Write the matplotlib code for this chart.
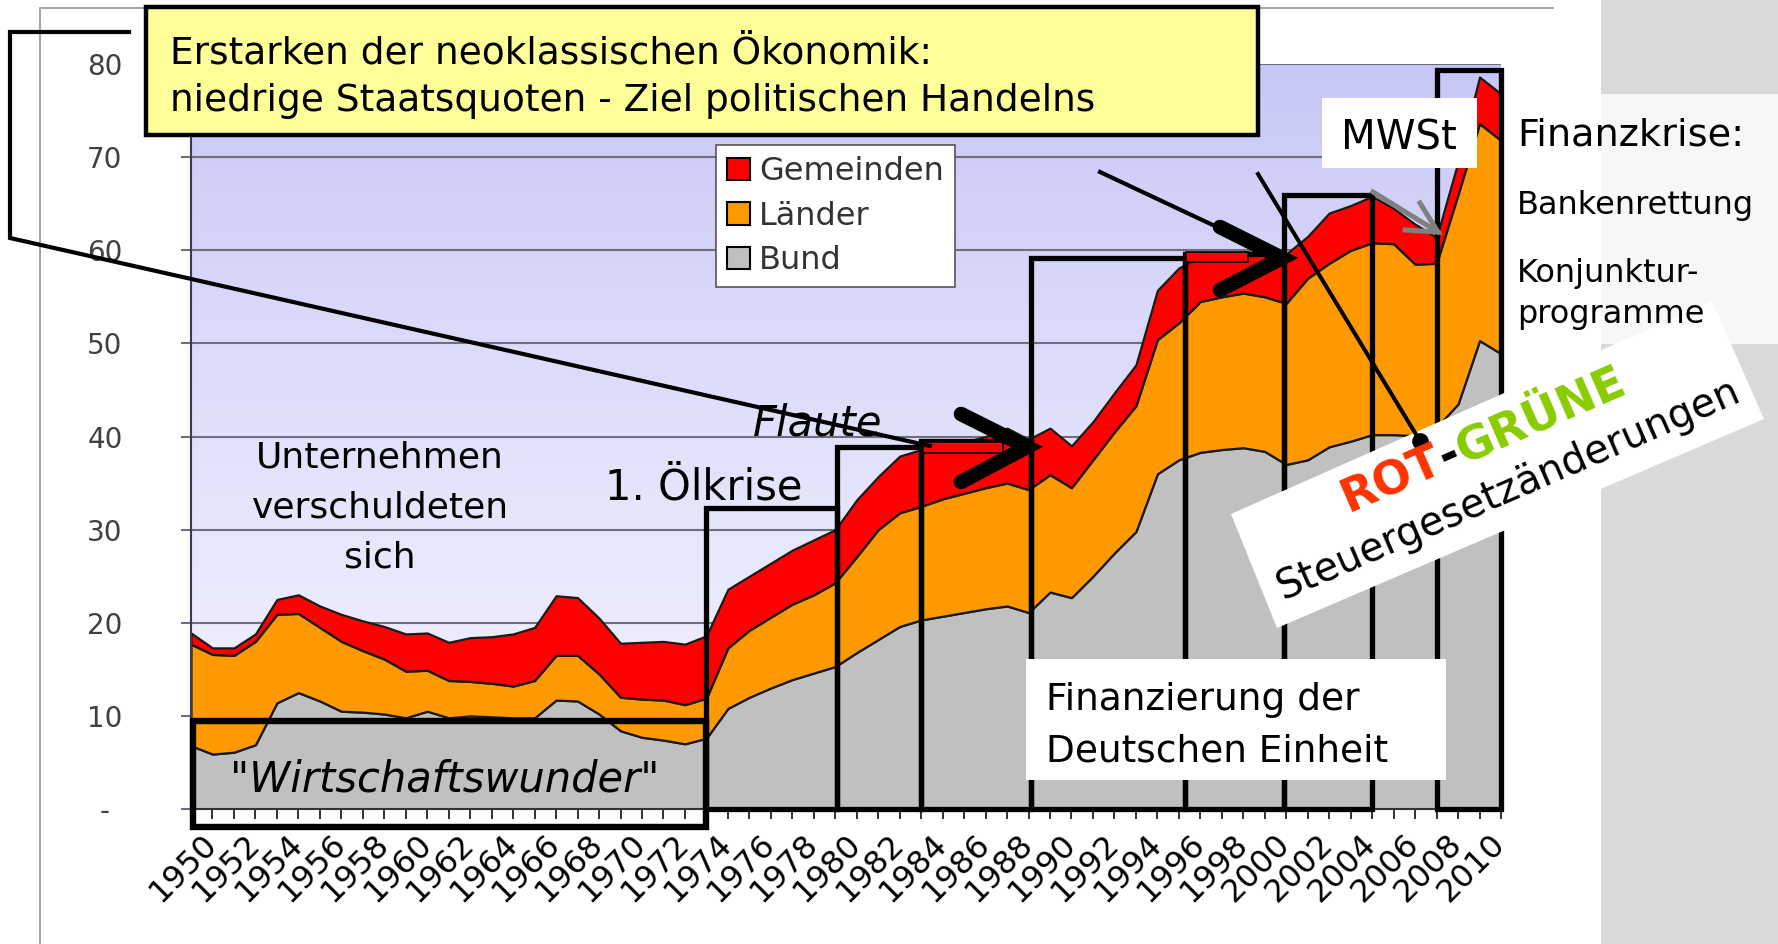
import numpy as np
import matplotlib.pyplot as plt
from matplotlib.patches import Rectangle, Polygon, Patch
from matplotlib.transforms import ScaledTranslation

plt.rcParams['font.family'] = ['DejaVu Sans']

# Schulden in % des BIP, 1950-2011 (gestapelt: Bund, Länder, Gemeinden)
years = list(range(1950, 2012))
bund = [6.8, 5.9, 6.1, 6.9, 11.4, 12.5, 11.6, 10.5, 10.4, 10.2,
        9.8, 10.5, 9.8, 10.0, 9.9, 9.8, 9.8, 11.7, 11.6, 10.2,
        8.4, 7.7, 7.4, 7.0, 7.6, 10.8, 12.0, 13.0, 13.9, 14.6,
        15.3, 16.8, 18.2, 19.6, 20.3, 20.7, 21.1, 21.5, 21.8, 21.1,
        23.3, 22.7, 25.0, 27.5, 29.8, 36.0, 37.5, 38.3, 38.6, 38.8,
        38.4, 37.0, 37.5, 38.9, 39.5, 40.2, 40.2, 40.1, 41.0, 43.5,
        50.3, 48.9]
laender = [10.9, 10.7, 10.4, 11.1, 9.5, 8.5, 7.9, 7.5, 6.6, 5.9,
           5.0, 4.4, 4.0, 3.7, 3.6, 3.4, 4.0, 4.8, 4.9, 4.3,
           3.6, 4.1, 4.3, 4.2, 4.3, 6.5, 7.2, 7.6, 8.1, 8.4,
           9.0, 10.3, 11.8, 12.2, 12.2, 12.6, 12.8, 13.0, 13.2, 13.2,
           12.6, 11.8, 12.5, 13.0, 13.5, 14.4, 14.7, 16.2, 16.4, 16.6,
           16.6, 17.3, 19.5, 19.7, 20.5, 20.6, 20.5, 18.4, 17.6, 22.5,
           23.3, 22.9]
gemeinden = [1.2, 0.7, 0.8, 0.8, 1.6, 2.0, 2.3, 2.9, 3.2, 3.5,
             4.0, 4.0, 4.1, 4.7, 5.0, 5.6, 5.7, 6.4, 6.2, 6.0,
             5.8, 6.1, 6.3, 6.5, 6.7, 6.3, 5.8, 5.8, 5.8, 5.9,
             5.7, 6.1, 5.7, 6.1, 6.1, 5.8, 5.5, 5.5, 5.9, 5.4,
             5.0, 4.5, 4.1, 4.2, 4.4, 5.3, 5.9, 4.8, 4.5, 4.4,
             4.8, 5.3, 4.5, 5.4, 4.8, 5.0, 3.8, 4.3, 2.8, 3.5,
             5.0, 5.0]
series_names = ['Bund', 'Länder', 'Gemeinden']
series_colors = ['#c0c0c0', '#ff9900', '#ff0000']

y_ticks = [0, 10, 20, 30, 40, 50, 60, 70, 80]
y_tick_labels = ['-', '10', '20', '30', '40', '50', '60', '70', '80']
x_tick_years = list(range(1950, 2011, 2))

# Phasen-Kästen: (von, bis, Oberkante)
phase_boxes = [(1974, 1980.1, 32.3), (1980.1, 1984, 38.9), (1984, 1989.1, 39.5),
               (1989.1, 1996.3, 59.2), (1996.3, 2000.9, 59.6), (2000.9, 2005.0, 65.9),
               (2008.0, 2011, 79.4)]

W, H = 1778, 944
fig = plt.figure(figsize=(W / 100, H / 100), dpi=100)
fig.patch.set_facecolor('white')


def px_axes(z):
    a = fig.add_axes([0, 0, 1, 1])
    a.set_xlim(0, W)
    a.set_ylim(H, 0)
    a.axis('off')
    a.patch.set_visible(False)
    a.set_zorder(z)
    return a


# Hintergrund der Folie
bg = px_axes(-1)
bg.add_patch(Rectangle((1601, 0), 177, 944, fc='#d9d9d9', ec='none'))
bg.add_patch(Rectangle((1601, 94), 177, 250, fc='#f7f7f7', ec='none'))
bg.plot([40, 40, 1553], [944, 8, 8], color='#a6a6a6', lw=1.5)

# Diagramm
ax = fig.add_axes([191 / W, 1 - 809 / H, 1310 / W, 745 / H])
t = np.linspace(0, 1, 256) ** 1.3
top_c = np.array([0.78, 0.78, 0.97])
bot_c = np.array([0.95, 0.95, 0.995])
img = bot_c[None, None, :] + (top_c - bot_c)[None, None, :] * t[:, None, None]
ax.imshow(img, extent=(1950, 2011, 0, 80), origin='lower', aspect='auto',
          zorder=0, interpolation='bicubic')
ax.stackplot(years, bund, laender, gemeinden, colors=series_colors,
             edgecolor='#1a1a1a', linewidth=1.6, zorder=2)
ax.set_xlim(1950, 2011)
ax.set_ylim(0, 80)

ax.set_yticks(y_ticks)
ax.set_yticklabels(y_tick_labels)
ax.yaxis.grid(True, color='#6e6e80', lw=1.5)
ax.set_axisbelow(True)
ax.tick_params(axis='y', length=7, width=1.5, color='#6e6e80', pad=55,
               labelsize=20, labelcolor='#404040')
for lbl in ax.get_yticklabels():
    lbl.set_ha('center')

ax.set_xticks(x_tick_years)
ax.set_xticklabels([str(y) for y in x_tick_years], rotation=45, ha='right',
                   va='top', rotation_mode='anchor')
ax.set_xticks(years, minor=True)
ax.tick_params(axis='x', which='both', length=7, width=1.3, color='#222222')
ax.tick_params(axis='x', which='major', labelsize=23, pad=7)
shift = ScaledTranslation(0.1, 0, fig.dpi_scale_trans)
for lbl in ax.get_xticklabels():
    lbl.set_transform(lbl.get_transform() + shift)
for s in ['top', 'right']:
    ax.spines[s].set_visible(False)
ax.spines['left'].set_color('#3a3a55')
ax.spines['left'].set_linewidth(1.5)
ax.spines['bottom'].set_color('#333333')
ax.spines['bottom'].set_linewidth(1.5)

for x0, x1, top in phase_boxes:
    ax.add_patch(Rectangle((x0, 0), x1 - x0, top, fill=False, ec='black',
                           lw=3.8, zorder=4, clip_on=False))
ax.add_patch(Rectangle((1950.1, -1.9), 23.9, 11.3, fill=False, ec='black',
                       lw=4.6, zorder=4, clip_on=False))

handles = [Patch(fc=c, ec='black', lw=1.5, label=n)
           for n, c in zip(series_names[::-1], series_colors[::-1])]
leg = ax.legend(handles=handles, loc='upper left', bbox_to_anchor=(716 / W, 1 - 145 / H),
                bbox_transform=fig.transFigure, fontsize=23, frameon=True,
                fancybox=False, edgecolor='#555555', framealpha=1, borderpad=0.35,
                handlelength=0.7, handleheight=0.7, handletextpad=0.3,
                labelspacing=0.42, borderaxespad=0)
leg.get_frame().set_linewidth(1.2)
for tx in leg.get_texts():
    tx.set_color('#333333')
leg.set_zorder(6)

# Anmerkungen (Pixelkoordinaten)
ov = px_axes(5)
ov.add_patch(Rectangle((146, 7), 1112, 128, fc='#ffff99', ec='black', lw=3.2))
ov.text(170, 63, 'Erstarken der neoklassischen Ökonomik:', fontsize=27, va='baseline')
ov.text(170, 111, 'niedrige Staatsquoten - Ziel politischen Handelns', fontsize=27,
        va='baseline')

ov.add_patch(Rectangle((1026, 659), 420, 121, fc='white', ec='none'))
ov.text(1046, 710, 'Finanzierung der', fontsize=27, va='baseline')
ov.text(1046, 762, 'Deutschen Einheit', fontsize=27, va='baseline')

ov.add_patch(Rectangle((1322, 98), 155, 70, fc='white', ec='none'))
ov.text(1399, 150, 'MWSt', fontsize=29, ha='center', va='baseline')

ov.add_patch(Polygon([(1231, 514), (1712, 301), (1764, 419), (1277, 628)],
                     closed=True, fc='white', ec='none'))

# Linien und Pfeile
ov.plot([129, 10, 10, 930], [32, 32, 238, 446], color='black', lw=3,
        solid_joinstyle='miter')
ov.add_patch(Rectangle((923, 442), 80, 11, fc='red', ec='black', lw=1.2))
ov.plot([961, 1027, 961], [414, 447, 482], color='black', lw=10.5,
        solid_capstyle='round', solid_joinstyle='miter')

ov.plot([1100, 1283], [172, 258], color='black', lw=3)
ov.add_patch(Rectangle((1186, 252), 62, 10, fc='red', ec='black', lw=1.2))
ov.plot([1220, 1282, 1220], [227, 258, 290], color='black', lw=10.5,
        solid_capstyle='round', solid_joinstyle='miter')

ov.plot([1373, 1438], [192, 232], color='#808080', lw=3.6)
ov.plot([1420, 1438, 1405], [203, 232, 230], color='#808080', lw=3.6,
        solid_joinstyle='miter')

ov.plot([1258, 1420], [174, 441], color='black', lw=2.9)
ov.plot([1420], [441], 'o', color='black', ms=11)

# Texte im Diagramm
for i, line in enumerate(['Unternehmen', 'verschuldeten', 'sich']):
    ov.text(380, 468 + 50 * i, line, fontsize=26, ha='center', va='baseline')
ov.text(704, 500, '1. Ölkrise', fontsize=30, ha='center', va='baseline')
ov.text(753, 435, 'Flaute', fontsize=30, style='italic', va='baseline')
ov.text(445, 792, '"Wirtschaftswunder"', fontsize=30, style='italic',
        ha='center', va='baseline')

ov.text(1517, 146, 'Finanzkrise:', fontsize=27.5, va='baseline')
ov.text(1517, 214, 'Bankenrettung', fontsize=23, va='baseline')
ov.text(1517, 282, 'Konjunktur-', fontsize=23, va='baseline')
ov.text(1517, 323, 'programme', fontsize=23, va='baseline')

# ROT-GRÜNE, gedreht
ang = 23.5
ca, sa = np.cos(np.radians(ang)), np.sin(np.radians(ang))
renderer = fig.canvas.get_renderer()
px, py = 1349.0, 513.0
for piece, col in [('ROT', '#ff3300'), ('-', 'black'), ('GRÜNE', '#88cc00')]:
    tmp = ov.text(0, 0, piece, fontsize=33, fontweight='bold')
    w = tmp.get_window_extent(renderer=renderer).width
    tmp.remove()
    ov.text(px, py, piece, fontsize=33, fontweight='bold', color=col, rotation=ang,
            rotation_mode='anchor', ha='left', va='baseline')
    px += w * ca
    py -= w * sa
ov.text(1513, 500, 'Steuergesetzänderungen', fontsize=28.5, rotation=ang,
        rotation_mode='anchor', ha='center', va='baseline')

fig.savefig('out.png', dpi=100)
